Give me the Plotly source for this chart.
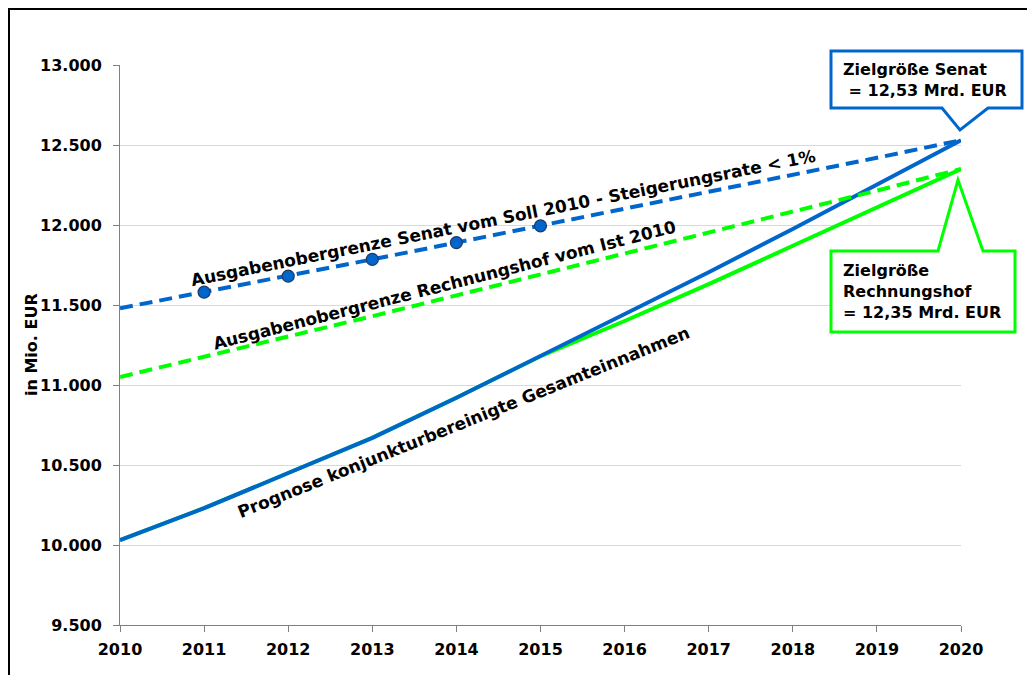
import plotly.graph_objects as go

# ---- data ----
years = [2010, 2011, 2012, 2013, 2014, 2015, 2016, 2017, 2018, 2019, 2020]
einnahmen_senat = [10030, 10230, 10450, 10670, 10920, 11180, 11440, 11705, 11975, 12250, 12530]
einnahmen_rh = [10030, 10230, 10450, 10670, 10920, 11180, 11400, 11630, 11870, 12110, 12350]
obergrenze_senat = [11480, 11580, 11680, 11785, 11890, 11995, 12100, 12205, 12310, 12420, 12530]
obergrenze_rh = [11050, 11175, 11300, 11430, 11560, 11690, 11820, 11950, 12085, 12215, 12350]
marker_years = [2011, 2012, 2013, 2014, 2015]
y_ticks = [9500, 10000, 10500, 11000, 11500, 12000, 12500, 13000]

BLUE = "#0066CC"
GREEN = "#00FF00"
FONT = "DejaVu Sans"

# page has an 8px body margin; work in page pixels and convert
OFF = 8
PAGE_W, PAGE_H = 1035, 675
W, H = PAGE_W - OFF, PAGE_H - OFF
# plot area in page pixels
L, R, T, B = 120, 961, 65, 625


def xp(px):
    return (px - L) / (R - L)


def yp(py):
    return (B - py) / (B - T)


fig = go.Figure()

fig.add_trace(go.Scatter(x=years, y=einnahmen_rh, mode="lines",
                         line=dict(color=GREEN, width=4), hoverinfo="skip"))
fig.add_trace(go.Scatter(x=years, y=einnahmen_senat, mode="lines",
                         line=dict(color=BLUE, width=4), hoverinfo="skip"))
fig.add_trace(go.Scatter(x=years, y=obergrenze_rh, mode="lines",
                         line=dict(color=GREEN, width=4, dash="13px,7px"), hoverinfo="skip"))
fig.add_trace(go.Scatter(x=years, y=obergrenze_senat, mode="lines",
                         line=dict(color=BLUE, width=4, dash="13px,7px"), hoverinfo="skip"))
fig.add_trace(go.Scatter(x=marker_years,
                         y=[obergrenze_senat[years.index(yv)] for yv in marker_years],
                         mode="markers",
                         marker=dict(color=BLUE, size=12, line=dict(color="#1F3864", width=1.2)),
                         hoverinfo="skip"))


def path(points, close=True):
    s = "M " + " L ".join(f"{xp(a):.5f},{yp(b):.5f}" for a, b in points)
    return s + (" Z" if close else "")


shapes = [
    # outer frame (left and top edges)
    dict(type="path", xref="paper", yref="paper",
         path=path([(OFF + 1, PAGE_H + 5), (OFF + 1, OFF + 1), (PAGE_W + 5, OFF + 1)], close=False),
         line=dict(color="black", width=2)),
    # Senat callout
    dict(type="path", xref="paper", yref="paper",
         path=path([(831, 51), (1022, 51), (1022, 108), (988, 108), (960, 130), (942, 108), (831, 108)]),
         fillcolor="white", line=dict(color=BLUE, width=3), layer="above"),
    # Rechnungshof callout
    dict(type="path", xref="paper", yref="paper",
         path=path([(831, 251), (938, 251), (958, 180), (983, 251), (1015, 251), (1015, 332), (831, 332)]),
         fillcolor="white", line=dict(color=GREEN, width=3), layer="above"),
]

tf = dict(family=FONT, size=17, color="black", weight="bold")
cf = dict(family=FONT, size=16, color="black", weight="bold")
annotations = [
    dict(x=2014.55, y=12044, xref="x", yref="y", showarrow=False, textangle=-11.3,
         text="Ausgabenobergrenze Senat vom Soll 2010 - Steigerungsrate < 1%", font=tf),
    dict(x=2013.86, y=11625, xref="x", yref="y", showarrow=False, textangle=-14.3,
         text="Ausgabenobergrenze Rechnungshof vom Ist 2010", font=tf),
    dict(x=2014.09, y=10769, xref="x", yref="y", showarrow=False, textangle=-21.9,
         text="Prognose konjunkturbereinigte Gesamteinnahmen", font=tf),
    dict(x=xp(31), y=yp(345), xref="paper", yref="paper", showarrow=False, textangle=-90,
         xanchor="center", yanchor="middle",
         text="in Mio. EUR", font=dict(family=FONT, size=16, color="black", weight="bold")),
    dict(x=xp(841), y=yp(80), xref="paper", yref="paper", showarrow=False,
         xanchor="left", yanchor="middle", align="left",
         text="Zielgröße Senat<br> = 12,53 Mrd. EUR", font=cf),
    dict(x=xp(841), y=yp(291), xref="paper", yref="paper", showarrow=False,
         xanchor="left", yanchor="middle", align="left",
         text="Zielgröße<br>Rechnungshof<br>= 12,35 Mrd. EUR", font=cf),
]

fig.update_layout(
    width=W, height=H,
    margin=dict(l=L - OFF, r=PAGE_W - R, t=T - OFF, b=PAGE_H - B, pad=0),
    plot_bgcolor="white", paper_bgcolor="white",
    showlegend=False,
    separators=",.",
    shapes=shapes,
    annotations=annotations,
    xaxis=dict(range=[2010, 2020], tickvals=years, ticktext=[str(v) for v in years],
               ticks="outside", ticklen=6, tickcolor="#808080", tickwidth=1,
               showline=True, linecolor="#808080", linewidth=1,
               showgrid=False, zeroline=False, ticklabelstandoff=4,
               tickfont=dict(family=FONT, size=16, color="black", weight="bold")),
    yaxis=dict(range=[9500, 13000], tickvals=y_ticks, tickformat=",.0f",
               ticks="outside", ticklen=6, tickcolor="#808080", tickwidth=1,
               showline=True, linecolor="#808080", linewidth=1,
               showgrid=True, gridcolor="#D9D9D9", gridwidth=1, zeroline=False,
               ticklabelstandoff=8,
               tickfont=dict(family=FONT, size=16, color="black", weight="bold")),
)

fig.write_html("out.html")
